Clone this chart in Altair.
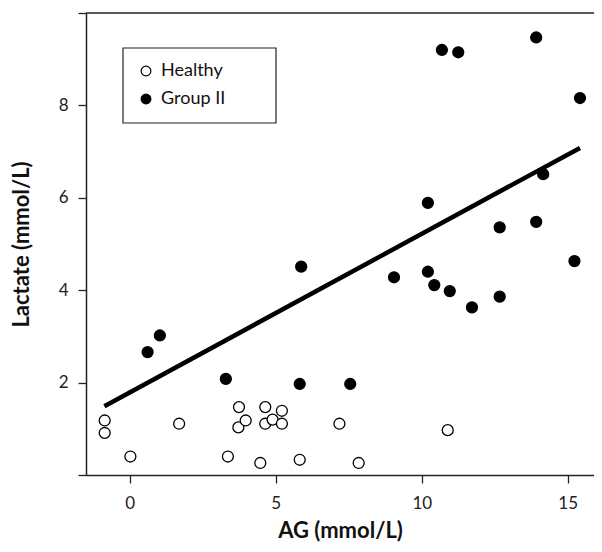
import altair as alt
import pandas as pd

# Healthy (open circles)
healthy_ag = [-0.86, -0.86, 0.02, 1.69, 3.36, 3.74, 3.72, 3.97, 4.47, 4.64, 4.64, 4.89, 5.21, 5.21, 5.82, 7.18, 7.84, 10.89]
healthy_lac = [1.18, 0.91, 0.40, 1.11, 0.40, 1.47, 1.03, 1.18, 0.26, 1.47, 1.11, 1.20, 1.39, 1.11, 0.33, 1.11, 0.26, 0.97]

# Group II (filled circles)
group2_ag = [10.69, 11.25, 13.92, 15.42, 14.16, 10.21, 12.67, 13.92, 15.23, 5.87, 9.05, 10.21,
             10.43, 10.96, 11.72, 12.67, 0.61, 1.03, 3.29, 5.82, 7.55]
group2_lac = [9.20, 9.15, 9.47, 8.16, 6.51, 5.89, 5.36, 5.48, 4.63, 4.51, 4.28, 4.40,
              4.11, 3.98, 3.63, 3.86, 2.66, 3.02, 2.08, 1.97, 1.97]

# Regression line end points
fit_ag = [-0.87, 15.42]
fit_lac = [1.49, 7.08]

groups = ["Healthy", "Group II"]
x_ticks = [0, 5, 10, 15]
y_ticks = [0, 2, 4, 6, 8, 10]

df = pd.concat([
    pd.DataFrame({"ag": healthy_ag, "lactate": healthy_lac, "group": groups[0]}),
    pd.DataFrame({"ag": group2_ag, "lactate": group2_lac, "group": groups[1]}),
])
fit_df = pd.DataFrame({"ag": fit_ag, "lactate": fit_lac})

FONT = "Lato"

x_enc = alt.X(
    "ag:Q",
    scale=alt.Scale(domain=[-1.5, 15.9], nice=False, zero=False),
    axis=alt.Axis(values=x_ticks, title="AG (mmol/L)", labelPadding=12, titlePadding=9),
)
y_enc = alt.Y(
    "lactate:Q",
    scale=alt.Scale(domain=[0, 10], nice=False),
    axis=alt.Axis(
        values=y_ticks,
        labelExpr="datum.value == 0 || datum.value == 10 ? '' : datum.label",
        title="Lactate (mmol/L)",
        labelPadding=10,
        titlePadding=25,
    ),
)

top_rule = alt.Chart(pd.DataFrame({"a": [0]})).mark_rule(
    color="#222", strokeWidth=1.5
).encode(x=alt.value(0), x2=alt.value(508), y=alt.value(0))

legend_box = alt.Chart(pd.DataFrame({"a": [0]})).mark_rect(
    fillOpacity=0, stroke="#222", strokeWidth=1.2
).encode(x=alt.value(37), x2=alt.value(190), y=alt.value(35), y2=alt.value(110))

line = alt.Chart(fit_df).mark_line(color="black", strokeWidth=4.5, strokeCap="butt").encode(
    x=x_enc, y=y_enc
)

points = alt.Chart(df).mark_circle(size=120, stroke="black", strokeWidth=1.3, opacity=1).encode(
    x=x_enc,
    y=y_enc,
    fill=alt.Fill(
        "group:N",
        scale=alt.Scale(domain=groups, range=["white", "black"]),
        legend=alt.Legend(
            title=None,
            orient="none",
            legendX=37,
            legendY=35,
            padding=14,
            rowPadding=10,
            labelOffset=6,
            labelFont=FONT,
            labelFontSize=18,
            labelColor="#111",
            symbolType="circle",
            symbolSize=95,
            symbolStrokeColor="black",
            symbolStrokeWidth=1.2,
        ),
    ),
)

chart = alt.layer(top_rule, legend_box, line, points).properties(
    width=508,
    height=462,
    autosize=alt.AutoSizeParams(type="none"),
    padding={"left": 78, "top": 5, "right": 0, "bottom": 69},
    background="white",
).configure_view(stroke=None).configure_axis(
    grid=False,
    domainColor="#222",
    domainWidth=1.5,
    tickColor="#222",
    tickWidth=1.3,
    tickSize=8,
    labelFont=FONT,
    labelFontSize=17,
    labelColor="#222",
    titleFont=FONT,
    titleFontSize=22,
    titleFontWeight="bold",
    titleColor="#111",
)

chart.save("out.html", embed_options={"renderer": "svg", "actions": False})
